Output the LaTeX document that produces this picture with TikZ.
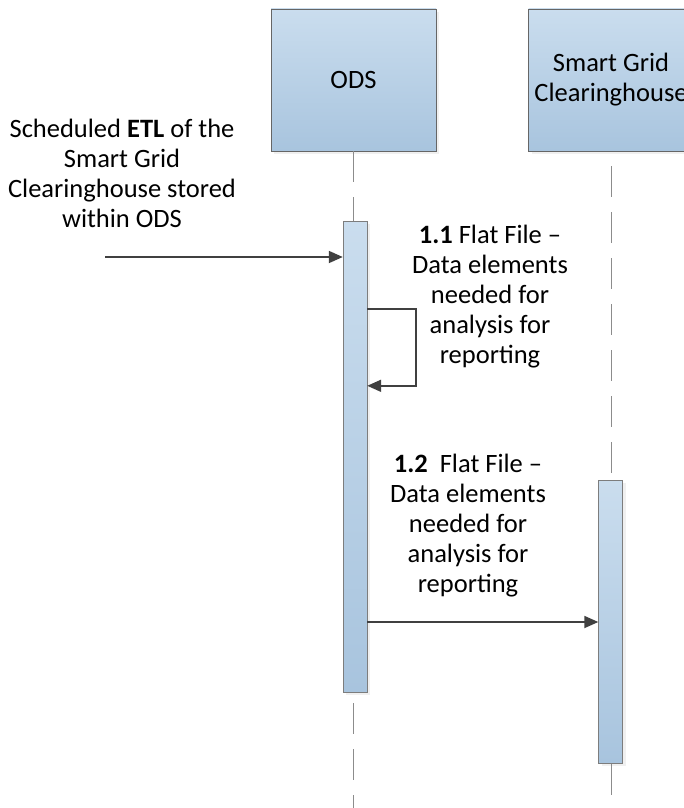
\documentclass[tikz,border=0pt]{standalone}
\usepackage{fontspec}
\setmainfont{Carlito}
\usetikzlibrary{arrows.meta,positioning,shadows}
\definecolor{lifec}{HTML}{8C8C8C}
\definecolor{edgec}{HTML}{666666}
\definecolor{topc}{HTML}{CADDEE}
\definecolor{botc}{HTML}{A8C4DE}
\definecolor{msgc}{HTML}{404040}
\tikzset{
  obj/.style={draw=edgec,top color=topc,bottom color=botc,minimum width=165pt,minimum height=142pt,
    align=center,inner sep=0pt,drop shadow={opacity=0.12,shadow xshift=3pt,shadow yshift=-3pt},
    font=\fontsize{26.5}{30}\selectfont},
  act/.style={draw=edgec!85,top color=topc,bottom color=botc,minimum width=24pt,inner sep=0pt,
    drop shadow={opacity=0.12,shadow xshift=3pt,shadow yshift=-3pt}},
  life/.style={lifec,line width=0.8pt,dash pattern=on 31pt off 15pt},
  msg/.style={-{Triangle[length=14pt,width=12pt]},line width=1.8pt,msgc},
  lbl/.style={align=center,font=\fontsize{26.5}{30}\selectfont}
}

\begin{document}
\begin{tikzpicture}[x=1pt,y=-1pt]
\useasboundingbox (0,0) rectangle (683,808);
\coordinate (bottom) at (0,808);
% objects
\node[obj] (ods) at (353.5,80) {ODS};
\node[obj] (sg) at (611,80) {Smart Grid\\Clearinghouse};
% lifelines
\draw[life] (ods.south) -- (ods.south |- bottom);
\draw[life,dash phase=31pt] (sg.south) -- (sg.south |- bottom);
% activations
\node[act,minimum height=471pt] (odsbar) at (355,456.5) {};
\node[act,minimum height=283pt] (sgbar) at (610.5,621.5) {};
% messages
\coordinate (etl) at (105,257);
\draw[msg] (etl) -- (etl -| odsbar.west);
\node[lbl] (etltxt) at (122,173) {Scheduled \textbf{ETL} of the\\Smart Grid\\Clearinghouse stored\\within ODS};
\draw[msg] (odsbar.north east) ++(0,88) -- ++(49,0) -- ++(0,77) -- ++(-49,0);
\node[lbl] (m1txt) at (490,297) {\textbf{1.1} Flat File --\\Data elements\\needed for\\analysis for\\reporting};
\coordinate (m2) at (0,622);
\draw[msg] (odsbar.east |- m2) -- (sgbar.west |- m2);
\node[lbl] (m2txt) at (468,526) {\textbf{1.2}\ \ Flat File --\\Data elements\\needed for\\analysis for\\reporting};
\end{tikzpicture}
\end{document}
